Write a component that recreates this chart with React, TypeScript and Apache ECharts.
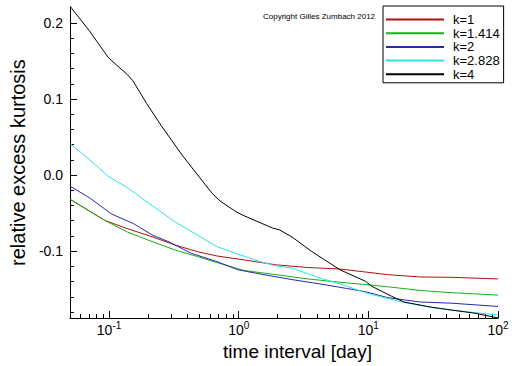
import React, { useEffect, useRef } from 'react';
import * as echarts from 'echarts';

// ---------- data ----------
const seriesNames = ['k=1', 'k=1.414', 'k=2', 'k=2.828', 'k=4'];

const redX = [0.05, 0.0933, 0.139, 0.218, 0.325, 0.483, 0.679, 1.1, 1.94, 3.42, 6.03, 9.5, 14.1, 24.9, 44, 100];
const redY = [-0.0317, -0.0598, -0.0705, -0.0814, -0.0921, -0.1008, -0.1063, -0.1115, -0.118, -0.1215, -0.1235, -0.1274, -0.1309, -0.1339, -0.1344, -0.1365];

const greenX = [0.05, 0.0933, 0.139, 0.218, 0.325, 0.483, 0.679, 1.1, 1.94, 3.42, 6.03, 9.5, 14.1, 24.9, 44, 100];
const greenY = [-0.0317, -0.0598, -0.075, -0.0878, -0.0986, -0.1072, -0.115, -0.1254, -0.1309, -0.1365, -0.1409, -0.1439, -0.1468, -0.1516, -0.1546, -0.1577];

const blueX = [0.05, 0.0703, 0.1045, 0.155, 0.218, 0.29, 0.431, 0.679, 0.983, 1.46, 2.58, 4.55, 6.77, 9.5, 14.1, 24.9, 44, 100];
const blueY = [-0.0145, -0.0296, -0.0511, -0.064, -0.0792, -0.0878, -0.1028, -0.1137, -0.1244, -0.13, -0.1374, -0.1439, -0.149, -0.1533, -0.1611, -0.1668, -0.1684, -0.1727];

const cyanX = [0.05, 0.0664, 0.0986, 0.139, 0.2066, 0.325, 0.483, 0.679, 0.877, 1.46, 1.94, 2.58, 4.06, 6.03, 9.5, 11.3, 18.8, 33.1, 58.4, 100];
const cyanY = [0.0415, 0.0243, -0.0016, -0.0167, -0.0381, -0.0618, -0.079, -0.0941, -0.1008, -0.1137, -0.1193, -0.1222, -0.1344, -0.143, -0.1546, -0.1581, -0.1675, -0.1749, -0.1797, -0.184];

const blackX = [0.05, 0.0703, 0.0986, 0.1137, 0.1388, 0.1527, 0.195, 0.252, 0.37, 0.624, 0.718, 0.954, 1.1, 1.83, 2.05, 2.58, 3.62, 6.03, 9.5, 10.6, 15.0, 18.8, 29.6, 44.0, 65.4, 100];
const blackY = [0.222, 0.19, 0.1546, 0.145, 0.132, 0.124, 0.0942, 0.0653, 0.0252, -0.024, -0.034, -0.0482, -0.0535, -0.0697, -0.0718, -0.0814, -0.0999, -0.1244, -0.1396, -0.1461, -0.159, -0.1668, -0.1732, -0.1775, -0.1814, -0.1878];

const xDecades = [0.1, 1, 10, 100];
const xMinor = [0.06, 0.07, 0.08, 0.09, 0.2, 0.3, 0.4, 0.5, 0.6, 0.7, 0.8, 0.9, 2, 3, 4, 5, 6, 7, 8, 9, 20, 30, 40, 50, 60, 70, 80, 90];
const yMajor = [-0.1, 0, 0.1, 0.2];
const yMinor = [-0.18, -0.16, -0.14, -0.12, -0.08, -0.06, -0.04, -0.02, 0.02, 0.04, 0.06, 0.08, 0.12, 0.14, 0.16, 0.18];

const X_MIN = 0.05;
const X_MAX = 100;
const Y_MIN = -0.188;
const Y_MAX = 0.221;

const FONT = '"Liberation Sans", Arial, Helvetica, sans-serif';
const colors = ['#b01010', '#18b018', '#2828b0', '#30e0e0', '#000000'];

export default function App() {
  const ref = useRef<HTMLDivElement>(null);

  useEffect(() => {
    if (!ref.current) return;
    const chart = echarts.init(ref.current, null, { renderer: 'svg' });
    const xs = [redX, greenX, blueX, cyanX, blackX];
    const ys = [redY, greenY, blueY, cyanY, blackY];
    const lg = (v: number) => Math.log10(v);
    // minor-tick helper axes are offset so that their zero sits on the main axes' origin
    const lgMin = lg(X_MIN);
    const xSpan = lg(X_MAX) - lgMin;
    const ySpan = Y_MAX - Y_MIN;

    const option: any = {
      animation: false,
      backgroundColor: '#ffffff',
      grid: { left: 52, right: 14, top: 7, bottom: 42, containLabel: false },
      legend: {
        orient: 'vertical',
        left: 383,
        top: 6,
        padding: [7, 4, 2, 2],
        itemWidth: 58,
        itemHeight: 12,
        itemGap: 0.7,
        backgroundColor: '#ffffff',
        borderColor: '#000000',
        borderWidth: 1,
        borderRadius: 0,
        itemStyle: { opacity: 0 },
        textStyle: { fontSize: 13, color: '#000', fontFamily: FONT, padding: [0, 0, 0, 4], lineHeight: 12 },
        data: seriesNames,
      },
      graphic: [
        {
          type: 'text',
          left: 263,
          top: 12,
          style: { text: 'Copyright Gilles Zumbach 2012', fontSize: 8, fontFamily: FONT, fill: '#000' },
        },
      ],
      xAxis: [
        {
          type: 'value',
          min: lgMin,
          max: lg(X_MAX),
          position: 'bottom',
          axisLine: { show: true, onZero: false, lineStyle: { color: '#000', width: 1 } },
          axisTick: { show: true, inside: true, length: 7, customValues: xDecades.map(lg), lineStyle: { color: '#000', width: 1 } },
          axisLabel: {
            customValues: xDecades.map(lg),
            margin: 2,
            formatter: (v: number) => `{b|10}{s|${Math.round(v)}}`,
            rich: {
              b: { fontSize: 14, lineHeight: 20, fontFamily: FONT, color: '#000' },
              s: { fontSize: 10, lineHeight: 10, verticalAlign: 'top', fontFamily: FONT, color: '#000' },
            },
          },
          splitLine: { show: false },
          name: 'time interval [day]',
          nameLocation: 'middle',
          nameGap: 20,
          nameTextStyle: { fontSize: 19, color: '#000', fontFamily: FONT, padding: [0, 0, 0, 27] },
        },
        {
          type: 'value',
          min: 0,
          max: xSpan,
          position: 'bottom',
          axisLine: { show: false, onZero: true, onZeroAxisIndex: 1 },
          axisTick: { show: true, inside: true, length: 4, customValues: xMinor.map((v) => lg(v) - lgMin), lineStyle: { color: '#000', width: 1 } },
          axisLabel: { show: false },
          splitLine: { show: false },
        },
      ],
      yAxis: [
        {
          type: 'value',
          min: Y_MIN,
          max: Y_MAX,
          position: 'left',
          axisLine: { show: true, onZero: false, lineStyle: { color: '#000', width: 1 } },
          axisTick: { show: true, inside: true, length: 7, customValues: yMajor, lineStyle: { color: '#000', width: 1 } },
          axisLabel: {
            customValues: yMajor,
            margin: 7,
            fontSize: 14,
            fontFamily: FONT,
            color: '#000',
            formatter: (v: number) => v.toFixed(1),
          },
          splitLine: { show: false },
          name: 'relative excess kurtosis',
          nameLocation: 'middle',
          nameGap: 27,
          nameTextStyle: { fontSize: 20, color: '#000', fontFamily: FONT },
        },
        {
          type: 'value',
          min: 0,
          max: ySpan,
          position: 'left',
          axisLine: { show: false, onZero: true, onZeroAxisIndex: 1 },
          axisTick: { show: true, inside: true, length: 4, customValues: yMinor.map((v) => v - Y_MIN), lineStyle: { color: '#000', width: 1 } },
          axisLabel: { show: false },
          splitLine: { show: false },
        },
      ],
      series: seriesNames.map((name, i) => ({
        name,
        type: 'line',
        xAxisIndex: 0,
        yAxisIndex: 0,
        symbol: 'none',
        smooth: false,
        clip: true,
        lineStyle: { width: 1, color: colors[i] },
        itemStyle: { color: colors[i] },
        data: xs[i].map((x, j) => [lg(x), ys[i][j]]),
      })),
    };

    chart.setOption(option);
    return () => chart.dispose();
  }, []);

  return (
    <div
      ref={ref}
      style={{ position: 'fixed', left: 0, top: 0, width: 512, height: 366, background: '#fff' }}
    />
  );
}
